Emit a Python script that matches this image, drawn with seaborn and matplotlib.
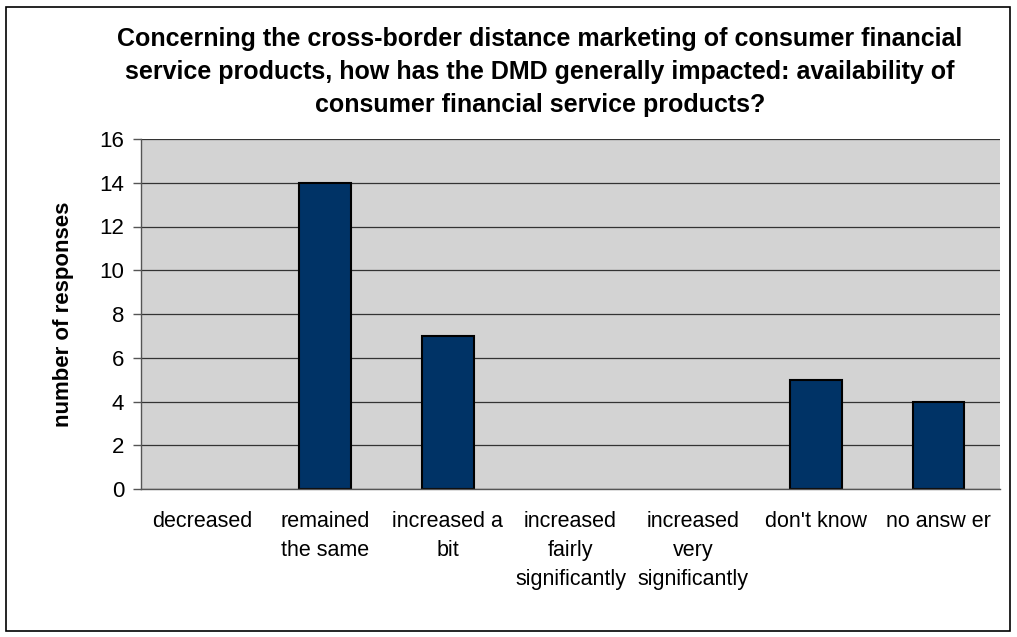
import matplotlib
matplotlib.use("Agg")
import matplotlib.pyplot as plt
import seaborn as sns
import numpy as np
from matplotlib.patches import Rectangle

categories = ["decreased", "remained\nthe same", "increased a\nbit",
              "increased\nfairly\nsignificantly", "increased\nvery\nsignificantly",
              "don't know", "no answ er"]
responses = [0, 14, 7, 0, 0, 5, 4]
y_ticks = [0, 2, 4, 6, 8, 10, 12, 14, 16]
title = ("Concerning the cross-border distance marketing of consumer financial\n"
         "service products, how has the DMD generally impacted: availability of\n"
         "consumer financial service products?")

sns.set_theme(style="white")
plt.rcParams["font.family"] = ["Liberation Sans", "DejaVu Sans"]

fig = plt.figure(figsize=(10.17, 6.37), dpi=100)
ax = fig.add_axes([141 / 1017, 1 - 489 / 637, (1000 - 141) / 1017, (489 - 139) / 637])

sns.barplot(x=list(range(len(categories))), y=responses, color="#003366",
            width=0.42, edgecolor="black", linewidth=1.5, saturation=1, ax=ax)
# empty categories get no outline
for bar in ax.patches:
    if bar.get_height() == 0:
        bar.set_linewidth(0)

ax.set_facecolor("#D3D3D3")
ax.set_ylim(0, 16)
ax.set_xlim(-0.5, len(categories) - 0.5)
ax.set_yticks(y_ticks)
ax.set_yticklabels([str(t) for t in y_ticks], fontsize=16, color="black")
ax.set_xticks(range(len(categories)))
ax.set_xticklabels(categories, fontsize=15.5, linespacing=1.5, color="black")
ax.set_xticks(np.arange(-0.5, len(categories)), minor=True)
ax.tick_params(axis="x", which="major", length=0, pad=16)
ax.tick_params(axis="x", which="minor", length=6, width=1, color="#555555", direction="out")
ax.tick_params(axis="y", length=6, width=1, color="#555555", direction="out", left=True, pad=6)
ax.grid(axis="y", color="#333333", linewidth=0.9)
ax.set_axisbelow(True)
for side in ["top", "right"]:
    ax.spines[side].set_visible(False)
for side in ["left", "bottom"]:
    ax.spines[side].set_color("#555555")
    ax.spines[side].set_linewidth(1)

ax.set_ylabel("number of responses", fontsize=16, fontweight="bold", labelpad=18,
              color="black")
ax.set_xlabel("")

fig.text(540 / 1017, 1 - 72 / 637, title, ha="center", va="center",
         fontsize=18, fontweight="bold", linespacing=1.45, color="black")

fig.patches.append(Rectangle((6 / 1017, 6 / 637), 1004 / 1017, 624 / 637,
                             transform=fig.transFigure, fill=False,
                             edgecolor="black", linewidth=1.2))

fig.savefig("out.png", dpi=100)
